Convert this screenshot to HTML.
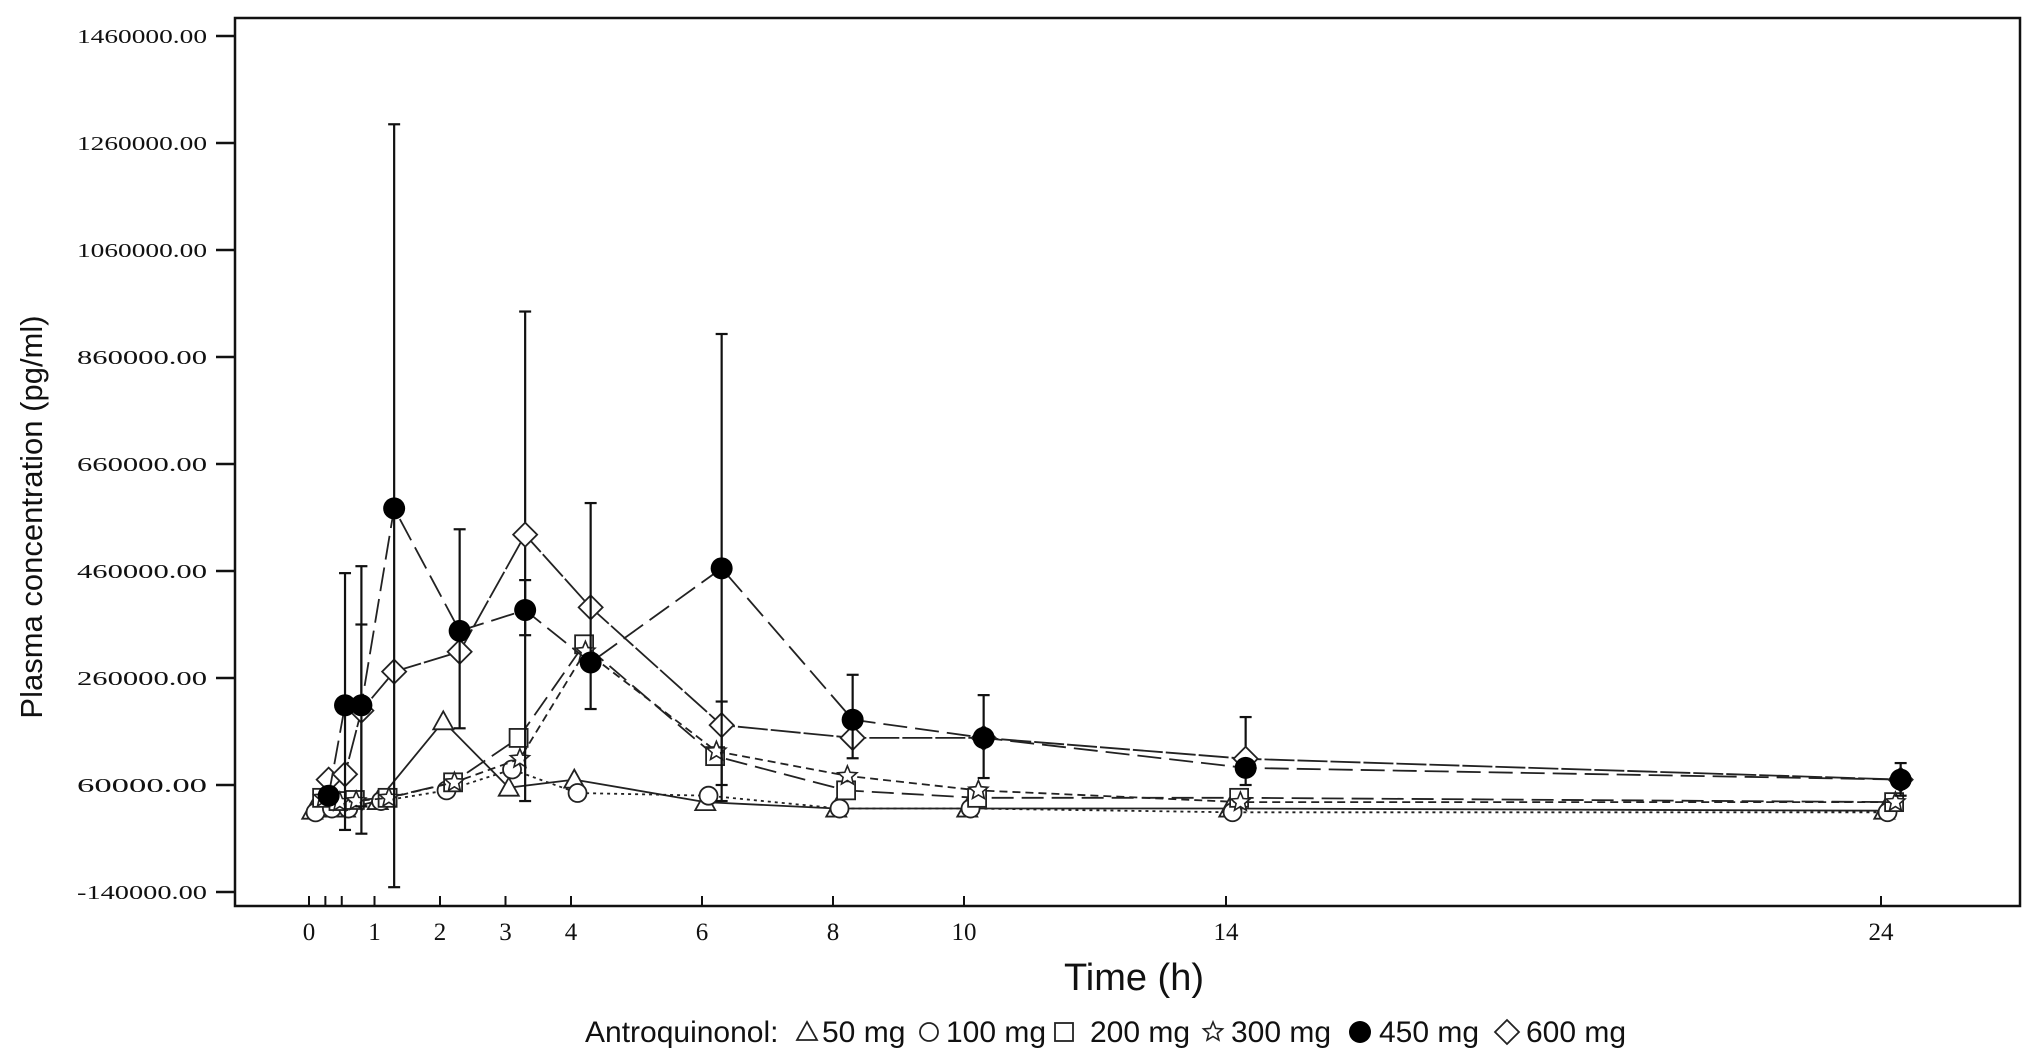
<!DOCTYPE html>
<html><head><meta charset="utf-8"><style>
html,body{margin:0;padding:0;background:#fff}
svg{display:block}
</style></head><body>
<svg id="chart" width="2040" height="1064" viewBox="0 0 2040 1064" xmlns="http://www.w3.org/2000/svg">
<rect x="235" y="18" width="1785" height="888" fill="none" stroke="#111" stroke-width="2.5"/>
<g id="yaxis"></g>
<g id="xaxis"></g>
<g id="series"></g>
<text x="42" y="517" transform="rotate(-90 42 517)" text-anchor="middle" font-family="Liberation Sans, sans-serif" font-size="31" fill="#111">Plasma concentration (pg/ml)</text>
<text x="1134" y="990" text-anchor="middle" font-family="Liberation Sans, sans-serif" font-size="38" fill="#111">Time (h)</text>
<g id="legend"></g>
</svg>
<script>
const yTicks=[1460000,1260000,1060000,860000,660000,460000,260000,60000,-140000];
const xTicks=[0,0.25,0.5,1,2,3,4,6,8,10,14,24];
const xTickLabels=["0","","","1","2","3","4","6","8","10","14","24"];
const times=[0,0.25,0.5,1,2,3,4,6,8,10,14,24];
const dose50=[12000,16000,16000,30000,179000,55000,70000,28000,16000,16000,16000,12000];
const dose100=[8800,16000,16000,30000,50000,89000,45000,40000,16000,16000,9000,9000];
const dose200=[36000,30000,32000,36000,65000,148000,323000,114000,50000,36000,36000,28000];
const dose300=[36000,28000,30000,36000,65000,109000,310000,123000,77000,50000,28000,28000];
const dose450=[40000,209000,209000,577000,348000,387000,289000,465000,182000,148000,92000,70000];
const dose600=[70000,80000,199000,272000,309000,528000,392000,172000,148000,148000,109000,70000];
const err450Hi=[null,456000,469000,1295000,538000,443000,587000,903000,266000,228000,null,101000];
const err450Lo=[null,-24000,-31000,-131000,166000,340000,202000,30000,110000,73000,null,40000];
const err600Hi=[null,null,360000,null,null,945000,null,216000,null,null,187000,null];
const err600Lo=[null,null,20000,null,null,30000,null,60000,null,null,60000,null];
const NS="http://www.w3.org/2000/svg";
function X(t){return 309+65.5*t}
function Y(v){return 36+(1460000-v)/200000*107}
function mk(tag,attrs,parent){const e=document.createElementNS(NS,tag);for(const k in attrs)e.setAttribute(k,attrs[k]);parent.appendChild(e);return e}
const ya=document.getElementById('yaxis'),xa=document.getElementById('xaxis'),sg=document.getElementById('series'),lg=document.getElementById('legend');
yTicks.forEach(v=>{
 const l=mk('line',{x1:216,x2:235,y1:Y(v),y2:Y(v),stroke:'#111','stroke-width':2.5},ya);
 
 
 const t=mk('text',{x:207,y:Y(v)+7,'text-anchor':'end','font-family':'Liberation Serif, serif','font-size':20,fill:'#111',textLength:130,lengthAdjust:'spacingAndGlyphs'},ya);
 t.textContent=v.toFixed(2);
 
 
});
xTicks.forEach((v,i)=>{
 const l=mk('line',{x1:X(v),x2:X(v),y1:896,y2:906,stroke:'#111','stroke-width':2},xa);
 
 
 if(xTickLabels[i]){const t=mk('text',{x:X(v),y:940,'text-anchor':'middle','font-family':'Liberation Serif, serif','font-size':25,fill:'#111'},xa);
 t.textContent=xTickLabels[i];
 
 }
});
function marker(type,x,y,parent){
 let e;
 if(type==='tri')e=mk('polygon',{points:`${x},${y-10} ${x-10},${y+8} ${x+10},${y+8}`,fill:'#fff',stroke:'#222','stroke-width':1.8},parent);
 else if(type==='circ')e=mk('circle',{cx:x,cy:y,r:9,fill:'#fff',stroke:'#222','stroke-width':1.8},parent);
 else if(type==='sq')e=mk('rect',{x:x-9,y:y-9,width:18,height:18,fill:'#fff',stroke:'#222','stroke-width':1.8},parent);
 else if(type==='star'){let p=[];for(let i=0;i<10;i++){const r=i%2?4.5:10,a=-Math.PI/2+i*Math.PI/5;p.push((x+r*Math.cos(a)).toFixed(1)+','+(y+r*Math.sin(a)).toFixed(1))}e=mk('polygon',{points:p.join(' '),fill:'#fff',stroke:'#222','stroke-width':1.6},parent)}
 else if(type==='dot')e=mk('circle',{cx:x,cy:y,r:11,fill:'#000'},parent);
 else e=mk('polygon',{points:`${x},${y-12} ${x+12},${y} ${x},${y+12} ${x-12},${y}`,fill:'#fff',stroke:'#222','stroke-width':1.8},parent);
 return e;
}
const series=[
 {name:'50mg',vals:dose50,off:0.05,m:'tri',dash:''},
 {name:'100mg',vals:dose100,off:0.1,m:'circ',dash:'3,4'},
 {name:'200mg',vals:dose200,off:0.2,m:'sq',dash:'22,8'},
 {name:'300mg',vals:dose300,off:0.22,m:'star',dash:'8,5'},
 {name:'600mg',vals:dose600,off:0.3,m:'dia',dash:'30,3'},
 {name:'450mg',vals:dose450,off:0.3,m:'dot',dash:'24,8'}
];
function bars(hi,lo,off,g){
 hi.forEach((h,i)=>{if(h==null)return;const x=X(times[i]+off);
  const b=mk('line',{x1:x,x2:x,y1:Y(h),y2:Y(lo[i]),stroke:'#111','stroke-width':2.2},g);
  
  
  mk('line',{x1:x-6,x2:x+6,y1:Y(h),y2:Y(h),stroke:'#111','stroke-width':2.2},g);
  mk('line',{x1:x-6,x2:x+6,y1:Y(lo[i]),y2:Y(lo[i]),stroke:'#111','stroke-width':2.2},g);});
}
series.forEach(s=>{
 const g=mk('g',{},sg);
 
 
 if(s.name==='600mg')bars(err600Hi,err600Lo,s.off,g);
 if(s.name==='450mg')bars(err450Hi,err450Lo,s.off,g);
 const pts=s.vals.map((v,i)=>X(times[i]+s.off).toFixed(1)+','+Y(v).toFixed(1)).join(' ');
 const pl=mk('polyline',{points:pts,fill:'none',stroke:'#222','stroke-width':1.8,'stroke-dasharray':s.dash},g);
 
 
 s.vals.forEach((v,i)=>{const m=marker(s.m,X(times[i]+s.off),Y(v),g);
  
  });
});
const lt=mk('text',{x:585,y:1042,'font-family':'Liberation Sans, sans-serif','font-size':30,fill:'#111'},lg);
lt.textContent='Antroquinonol:';


const legItems=[['tri','50 mg',807,822],['circ','100 mg',929,946],['sq','200 mg',1064,1090],['star','300 mg',1213,1231],['dot','450 mg',1360,1379],['dia','600 mg',1507,1526]];
legItems.forEach(it=>{
 const g=mk('g',{},lg);
 
 
 marker(it[0],it[2],1032,g);
 const t=mk('text',{x:it[3],y:1042,'font-family':'Liberation Sans, sans-serif','font-size':30,fill:'#111'},g);
 t.textContent=it[1];
});
</script>
</body></html>
